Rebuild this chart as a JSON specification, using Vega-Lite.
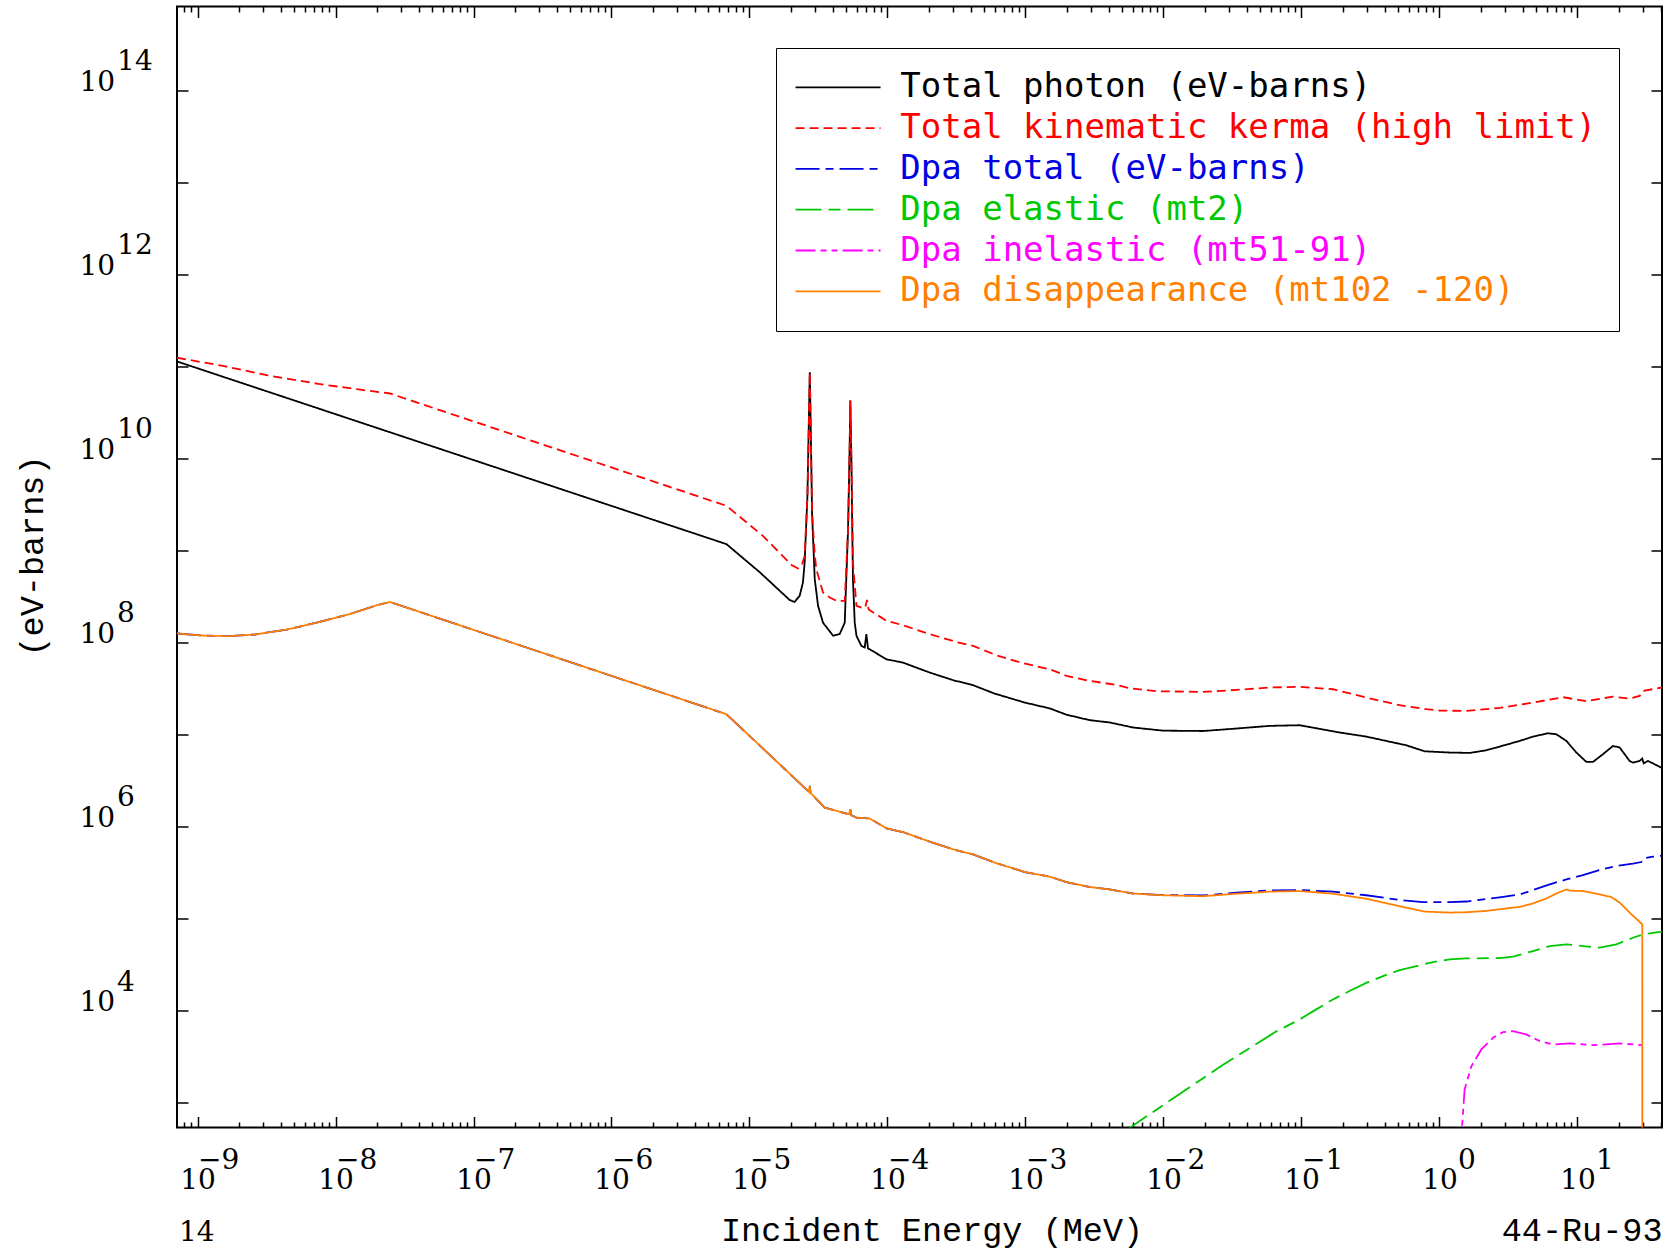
{
  "$schema": "https://vega.github.io/schema/vega-lite/v6.json",
  "width": 1485,
  "height": 1121,
  "autosize": {"type": "none"},
  "padding": {"left": 177, "top": 6.5, "right": 5, "bottom": 123.5},
  "background": "white",
  "layer": [
    {
      "data": {"values": [
        {"s":"Total photon (eV-barns)","E":7.1e-10,"v":1.13e11},
        {"s":"Total photon (eV-barns)","E":6.81e-6,"v":1.17e9},
        {"s":"Total photon (eV-barns)","E":1.19e-5,"v":5.77e8},
        {"s":"Total photon (eV-barns)","E":1.95e-5,"v":2.90e8},
        {"s":"Total photon (eV-barns)","E":2.12e-5,"v":2.75e8},
        {"s":"Total photon (eV-barns)","E":2.31e-5,"v":3.21e8},
        {"s":"Total photon (eV-barns)","E":2.44e-5,"v":4.48e8},
        {"s":"Total photon (eV-barns)","E":2.51e-5,"v":7.38e8},
        {"s":"Total photon (eV-barns)","E":2.63e-5,"v":3.93e9},
        {"s":"Total photon (eV-barns)","E":2.70e-5,"v":3.16e10},
        {"s":"Total photon (eV-barns)","E":2.735e-5,"v":8.61e10},
        {"s":"Total photon (eV-barns)","E":2.78e-5,"v":2.08e10},
        {"s":"Total photon (eV-barns)","E":2.84e-5,"v":2.59e9},
        {"s":"Total photon (eV-barns)","E":2.97e-5,"v":4.88e8},
        {"s":"Total photon (eV-barns)","E":3.14e-5,"v":2.50e8},
        {"s":"Total photon (eV-barns)","E":3.41e-5,"v":1.64e8},
        {"s":"Total photon (eV-barns)","E":4.04e-5,"v":1.18e8},
        {"s":"Total photon (eV-barns)","E":4.50e-5,"v":1.23e8},
        {"s":"Total photon (eV-barns)","E":4.90e-5,"v":1.64e8},
        {"s":"Total photon (eV-barns)","E":5.18e-5,"v":1.70e9},
        {"s":"Total photon (eV-barns)","E":5.32e-5,"v":1.37e10},
        {"s":"Total photon (eV-barns)","E":5.38e-5,"v":4.24e10},
        {"s":"Total photon (eV-barns)","E":5.48e-5,"v":9.04e9},
        {"s":"Total photon (eV-barns)","E":5.62e-5,"v":4.88e8},
        {"s":"Total photon (eV-barns)","E":5.79e-5,"v":1.64e8},
        {"s":"Total photon (eV-barns)","E":5.96e-5,"v":1.18e8},
        {"s":"Total photon (eV-barns)","E":6.47e-5,"v":9.16e7},
        {"s":"Total photon (eV-barns)","E":6.84e-5,"v":8.81e7},
        {"s":"Total photon (eV-barns)","E":7.03e-5,"v":1.23e8},
        {"s":"Total photon (eV-barns)","E":7.23e-5,"v":8.59e7},
        {"s":"Total photon (eV-barns)","E":7.43e-5,"v":8.43e7},
        {"s":"Total photon (eV-barns)","E":9.82e-5,"v":6.56e7},
        {"s":"Total photon (eV-barns)","E":1.29e-4,"v":6.05e7},
        {"s":"Total photon (eV-barns)","E":2.02e-4,"v":4.71e7},
        {"s":"Total photon (eV-barns)","E":2.99e-4,"v":3.89e7},
        {"s":"Total photon (eV-barns)","E":4.17e-4,"v":3.43e7},
        {"s":"Total photon (eV-barns)","E":5.98e-4,"v":2.78e7},
        {"s":"Total photon (eV-barns)","E":9.89e-4,"v":2.22e7},
        {"s":"Total photon (eV-barns)","E":1.50e-3,"v":1.92e7},
        {"s":"Total photon (eV-barns)","E":1.98e-3,"v":1.64e7},
        {"s":"Total photon (eV-barns)","E":2.92e-3,"v":1.43e7},
        {"s":"Total photon (eV-barns)","E":4.07e-3,"v":1.35e7},
        {"s":"Total photon (eV-barns)","E":6.03e-3,"v":1.19e7},
        {"s":"Total photon (eV-barns)","E":9.93e-3,"v":1.10e7},
        {"s":"Total photon (eV-barns)","E":1.94e-2,"v":1.09e7},
        {"s":"Total photon (eV-barns)","E":3.38e-2,"v":1.16e7},
        {"s":"Total photon (eV-barns)","E":5.89e-2,"v":1.24e7},
        {"s":"Total photon (eV-barns)","E":9.70e-2,"v":1.26e7},
        {"s":"Total photon (eV-barns)","E":0.189,"v":1.05e7},
        {"s":"Total photon (eV-barns)","E":0.295,"v":9.48e6},
        {"s":"Total photon (eV-barns)","E":0.576,"v":7.62e6},
        {"s":"Total photon (eV-barns)","E":0.781,"v":6.56e6},
        {"s":"Total photon (eV-barns)","E":1.186,"v":6.36e6},
        {"s":"Total photon (eV-barns)","E":1.655,"v":6.30e6},
        {"s":"Total photon (eV-barns)","E":2.187,"v":6.73e6},
        {"s":"Total photon (eV-barns)","E":2.729,"v":7.38e6},
        {"s":"Total photon (eV-barns)","E":3.810,"v":8.50e6},
        {"s":"Total photon (eV-barns)","E":4.764,"v":9.48e6},
        {"s":"Total photon (eV-barns)","E":6.118,"v":1.03e7},
        {"s":"Total photon (eV-barns)","E":7.038,"v":1.005e7},
        {"s":"Total photon (eV-barns)","E":8.316,"v":8.50e6},
        {"s":"Total photon (eV-barns)","E":9.824,"v":6.36e6},
        {"s":"Total photon (eV-barns)","E":11.61,"v":5.03e6},
        {"s":"Total photon (eV-barns)","E":12.96,"v":5.03e6},
        {"s":"Total photon (eV-barns)","E":15.31,"v":6.10e6},
        {"s":"Total photon (eV-barns)","E":18.08,"v":7.50e6},
        {"s":"Total photon (eV-barns)","E":20.23,"v":7.21e6},
        {"s":"Total photon (eV-barns)","E":23.89,"v":5.15e6},
        {"s":"Total photon (eV-barns)","E":25.25,"v":4.95e6},
        {"s":"Total photon (eV-barns)","E":28.23,"v":5.15e6},
        {"s":"Total photon (eV-barns)","E":29.51,"v":5.47e6},
        {"s":"Total photon (eV-barns)","E":30.2,"v":4.86e6},
        {"s":"Total photon (eV-barns)","E":32.4,"v":5.15e6},
        {"s":"Total photon (eV-barns)","E":35.2,"v":4.86e6},
        {"s":"Total photon (eV-barns)","E":41,"v":4.32e6},

        {"s":"Total kinematic kerma (high limit)","E":7.1e-10,"v":1.24e11},
        {"s":"Total kinematic kerma (high limit)","E":1.53e-9,"v":1.01e11},
        {"s":"Total kinematic kerma (high limit)","E":3.23e-9,"v":7.98e10},
        {"s":"Total kinematic kerma (high limit)","E":7.55e-9,"v":6.44e10},
        {"s":"Total kinematic kerma (high limit)","E":1.53e-8,"v":5.57e10},
        {"s":"Total kinematic kerma (high limit)","E":2.48e-8,"v":5.07e10},
        {"s":"Total kinematic kerma (high limit)","E":6.81e-6,"v":3.05e9},
        {"s":"Total kinematic kerma (high limit)","E":1.25e-5,"v":1.44e9},
        {"s":"Total kinematic kerma (high limit)","E":2.03e-5,"v":6.89e8},
        {"s":"Total kinematic kerma (high limit)","E":2.25e-5,"v":6.36e8},
        {"s":"Total kinematic kerma (high limit)","E":2.40e-5,"v":6.98e8},
        {"s":"Total kinematic kerma (high limit)","E":2.51e-5,"v":8.73e8},
        {"s":"Total kinematic kerma (high limit)","E":2.63e-5,"v":3.93e9},
        {"s":"Total kinematic kerma (high limit)","E":2.70e-5,"v":3.16e10},
        {"s":"Total kinematic kerma (high limit)","E":2.735e-5,"v":8.61e10},
        {"s":"Total kinematic kerma (high limit)","E":2.78e-5,"v":2.08e10},
        {"s":"Total kinematic kerma (high limit)","E":2.84e-5,"v":2.59e9},
        {"s":"Total kinematic kerma (high limit)","E":2.97e-5,"v":9.12e8},
        {"s":"Total kinematic kerma (high limit)","E":3.05e-5,"v":6.26e8},
        {"s":"Total kinematic kerma (high limit)","E":3.41e-5,"v":3.49e8},
        {"s":"Total kinematic kerma (high limit)","E":3.82e-5,"v":3.08e8},
        {"s":"Total kinematic kerma (high limit)","E":4.26e-5,"v":2.83e8},
        {"s":"Total kinematic kerma (high limit)","E":4.90e-5,"v":2.83e8},
        {"s":"Total kinematic kerma (high limit)","E":5.18e-5,"v":1.70e9},
        {"s":"Total kinematic kerma (high limit)","E":5.32e-5,"v":1.37e10},
        {"s":"Total kinematic kerma (high limit)","E":5.38e-5,"v":4.24e10},
        {"s":"Total kinematic kerma (high limit)","E":5.48e-5,"v":9.04e9},
        {"s":"Total kinematic kerma (high limit)","E":5.62e-5,"v":7.36e8},
        {"s":"Total kinematic kerma (high limit)","E":5.96e-5,"v":2.50e8},
        {"s":"Total kinematic kerma (high limit)","E":6.47e-5,"v":2.39e8},
        {"s":"Total kinematic kerma (high limit)","E":6.89e-5,"v":2.38e8},
        {"s":"Total kinematic kerma (high limit)","E":7.11e-5,"v":2.90e8},
        {"s":"Total kinematic kerma (high limit)","E":7.30e-5,"v":2.28e8},
        {"s":"Total kinematic kerma (high limit)","E":9.82e-5,"v":1.72e8},
        {"s":"Total kinematic kerma (high limit)","E":1.29e-4,"v":1.54e8},
        {"s":"Total kinematic kerma (high limit)","E":2.02e-4,"v":1.23e8},
        {"s":"Total kinematic kerma (high limit)","E":3.16e-4,"v":1.01e8},
        {"s":"Total kinematic kerma (high limit)","E":4.17e-4,"v":9.18e7},
        {"s":"Total kinematic kerma (high limit)","E":6.15e-4,"v":7.26e7},
        {"s":"Total kinematic kerma (high limit)","E":9.59e-4,"v":5.95e7},
        {"s":"Total kinematic kerma (high limit)","E":1.50e-3,"v":5.11e7},
        {"s":"Total kinematic kerma (high limit)","E":1.98e-3,"v":4.34e7},
        {"s":"Total kinematic kerma (high limit)","E":2.92e-3,"v":3.82e7},
        {"s":"Total kinematic kerma (high limit)","E":4.56e-3,"v":3.46e7},
        {"s":"Total kinematic kerma (high limit)","E":5.69e-3,"v":3.18e7},
        {"s":"Total kinematic kerma (high limit)","E":8.87e-3,"v":2.95e7},
        {"s":"Total kinematic kerma (high limit)","E":1.94e-2,"v":2.90e7},
        {"s":"Total kinematic kerma (high limit)","E":3.38e-2,"v":3.05e7},
        {"s":"Total kinematic kerma (high limit)","E":5.89e-2,"v":3.24e7},
        {"s":"Total kinematic kerma (high limit)","E":9.70e-2,"v":3.29e7},
        {"s":"Total kinematic kerma (high limit)","E":0.169,"v":3.10e7},
        {"s":"Total kinematic kerma (high limit)","E":0.295,"v":2.52e7},
        {"s":"Total kinematic kerma (high limit)","E":0.515,"v":2.08e7},
        {"s":"Total kinematic kerma (high limit)","E":0.804,"v":1.88e7},
        {"s":"Total kinematic kerma (high limit)","E":1.0,"v":1.82e7},
        {"s":"Total kinematic kerma (high limit)","E":1.566,"v":1.80e7},
        {"s":"Total kinematic kerma (high limit)","E":2.729,"v":1.94e7},
        {"s":"Total kinematic kerma (high limit)","E":4.764,"v":2.22e7},
        {"s":"Total kinematic kerma (high limit)","E":7.855,"v":2.54e7},
        {"s":"Total kinematic kerma (high limit)","E":11.61,"v":2.30e7},
        {"s":"Total kinematic kerma (high limit)","E":18.08,"v":2.58e7},
        {"s":"Total kinematic kerma (high limit)","E":23.89,"v":2.45e7},
        {"s":"Total kinematic kerma (high limit)","E":28.23,"v":2.62e7},
        {"s":"Total kinematic kerma (high limit)","E":29.83,"v":2.97e7},
        {"s":"Total kinematic kerma (high limit)","E":41,"v":3.24e7},

        {"s":"Dpa total (eV-barns)","E":7.1e-10,"v":1.25e8},
        {"s":"Dpa total (eV-barns)","E":1.07e-9,"v":1.19e8},
        {"s":"Dpa total (eV-barns)","E":1.67e-9,"v":1.17e8},
        {"s":"Dpa total (eV-barns)","E":2.61e-9,"v":1.22e8},
        {"s":"Dpa total (eV-barns)","E":4.44e-9,"v":1.38e8},
        {"s":"Dpa total (eV-barns)","E":7.55e-9,"v":1.66e8},
        {"s":"Dpa total (eV-barns)","E":1.29e-8,"v":2.05e8},
        {"s":"Dpa total (eV-barns)","E":2.00e-8,"v":2.54e8},
        {"s":"Dpa total (eV-barns)","E":2.48e-8,"v":2.75e8},
        {"s":"Dpa total (eV-barns)","E":6.81e-6,"v":1.66e7},
        {"s":"Dpa total (eV-barns)","E":2.69e-5,"v":2.39e6},
        {"s":"Dpa total (eV-barns)","E":2.735e-5,"v":2.76e6},
        {"s":"Dpa total (eV-barns)","E":2.77e-5,"v":2.31e6},
        {"s":"Dpa total (eV-barns)","E":3.51e-5,"v":1.60e6},
        {"s":"Dpa total (eV-barns)","E":5.26e-5,"v":1.36e6},
        {"s":"Dpa total (eV-barns)","E":5.38e-5,"v":1.54e6},
        {"s":"Dpa total (eV-barns)","E":5.46e-5,"v":1.33e6},
        {"s":"Dpa total (eV-barns)","E":5.96e-5,"v":1.25e6},
        {"s":"Dpa total (eV-barns)","E":7.43e-5,"v":1.22e6},
        {"s":"Dpa total (eV-barns)","E":9.82e-5,"v":9.55e5},
        {"s":"Dpa total (eV-barns)","E":1.29e-4,"v":8.71e5},
        {"s":"Dpa total (eV-barns)","E":2.02e-4,"v":6.85e5},
        {"s":"Dpa total (eV-barns)","E":2.99e-4,"v":5.64e5},
        {"s":"Dpa total (eV-barns)","E":4.17e-4,"v":4.98e5},
        {"s":"Dpa total (eV-barns)","E":5.98e-4,"v":4.05e5},
        {"s":"Dpa total (eV-barns)","E":9.89e-4,"v":3.20e5},
        {"s":"Dpa total (eV-barns)","E":1.50e-3,"v":2.85e5},
        {"s":"Dpa total (eV-barns)","E":1.98e-3,"v":2.49e5},
        {"s":"Dpa total (eV-barns)","E":2.92e-3,"v":2.20e5},
        {"s":"Dpa total (eV-barns)","E":4.07e-3,"v":2.07e5},
        {"s":"Dpa total (eV-barns)","E":6.03e-3,"v":1.87e5},
        {"s":"Dpa total (eV-barns)","E":9.93e-3,"v":1.80e5},
        {"s":"Dpa total (eV-barns)","E":1.94e-2,"v":1.78e5},
        {"s":"Dpa total (eV-barns)","E":3.38e-2,"v":1.91e5},
        {"s":"Dpa total (eV-barns)","E":5.89e-2,"v":2.02e5},
        {"s":"Dpa total (eV-barns)","E":9.70e-2,"v":2.04e5},
        {"s":"Dpa total (eV-barns)","E":0.169,"v":1.96e5},
        {"s":"Dpa total (eV-barns)","E":0.295,"v":1.79e5},
        {"s":"Dpa total (eV-barns)","E":0.515,"v":1.59e5},
        {"s":"Dpa total (eV-barns)","E":0.760,"v":1.51e5},
        {"s":"Dpa total (eV-barns)","E":1.186,"v":1.51e5},
        {"s":"Dpa total (eV-barns)","E":1.566,"v":1.53e5},
        {"s":"Dpa total (eV-barns)","E":2.729,"v":1.70e5},
        {"s":"Dpa total (eV-barns)","E":3.810,"v":1.82e5},
        {"s":"Dpa total (eV-barns)","E":4.764,"v":2.04e5},
        {"s":"Dpa total (eV-barns)","E":6.295,"v":2.35e5},
        {"s":"Dpa total (eV-barns)","E":8.316,"v":2.66e5},
        {"s":"Dpa total (eV-barns)","E":10.96,"v":2.97e5},
        {"s":"Dpa total (eV-barns)","E":14.49,"v":3.37e5},
        {"s":"Dpa total (eV-barns)","E":19.14,"v":3.72e5},
        {"s":"Dpa total (eV-barns)","E":25.25,"v":3.95e5},
        {"s":"Dpa total (eV-barns)","E":29.04,"v":4.11e5},
        {"s":"Dpa total (eV-barns)","E":29.83,"v":4.48e5},
        {"s":"Dpa total (eV-barns)","E":35.2,"v":4.70e5},
        {"s":"Dpa total (eV-barns)","E":41,"v":4.82e5},

        {"s":"Dpa elastic (mt2)","E":5.4e-3,"v":480},
        {"s":"Dpa elastic (mt2)","E":5.73e-3,"v":535},
        {"s":"Dpa elastic (mt2)","E":1.10e-2,"v":1.04e3},
        {"s":"Dpa elastic (mt2)","E":2.67e-2,"v":2.54e3},
        {"s":"Dpa elastic (mt2)","E":6.49e-2,"v":5.87e3},
        {"s":"Dpa elastic (mt2)","E":9.70e-2,"v":8.00e3},
        {"s":"Dpa elastic (mt2)","E":0.128,"v":1.03e4},
        {"s":"Dpa elastic (mt2)","E":0.169,"v":1.32e4},
        {"s":"Dpa elastic (mt2)","E":0.223,"v":1.63e4},
        {"s":"Dpa elastic (mt2)","E":0.295,"v":2.00e4},
        {"s":"Dpa elastic (mt2)","E":0.390,"v":2.37e4},
        {"s":"Dpa elastic (mt2)","E":0.515,"v":2.75e4},
        {"s":"Dpa elastic (mt2)","E":0.681,"v":3.04e4},
        {"s":"Dpa elastic (mt2)","E":0.898,"v":3.36e4},
        {"s":"Dpa elastic (mt2)","E":1.186,"v":3.60e4},
        {"s":"Dpa elastic (mt2)","E":1.566,"v":3.68e4},
        {"s":"Dpa elastic (mt2)","E":2.729,"v":3.72e4},
        {"s":"Dpa elastic (mt2)","E":3.413,"v":3.85e4},
        {"s":"Dpa elastic (mt2)","E":4.764,"v":4.43e4},
        {"s":"Dpa elastic (mt2)","E":6.295,"v":5.02e4},
        {"s":"Dpa elastic (mt2)","E":8.316,"v":5.24e4},
        {"s":"Dpa elastic (mt2)","E":10.96,"v":5.02e4},
        {"s":"Dpa elastic (mt2)","E":14.49,"v":4.82e4},
        {"s":"Dpa elastic (mt2)","E":19.14,"v":5.24e4},
        {"s":"Dpa elastic (mt2)","E":25.25,"v":6.18e4},
        {"s":"Dpa elastic (mt2)","E":29.83,"v":6.73e4},
        {"s":"Dpa elastic (mt2)","E":41,"v":7.19e4},

        {"s":"Dpa inelastic (mt51-91)","E":1.446,"v":300},
        {"s":"Dpa inelastic (mt51-91)","E":1.457,"v":541},
        {"s":"Dpa inelastic (mt51-91)","E":1.522,"v":1.39e3},
        {"s":"Dpa inelastic (mt51-91)","E":1.703,"v":2.48e3},
        {"s":"Dpa inelastic (mt51-91)","E":2.012,"v":3.78e3},
        {"s":"Dpa inelastic (mt51-91)","E":2.445,"v":5.06e3},
        {"s":"Dpa inelastic (mt51-91)","E":2.884,"v":5.82e3},
        {"s":"Dpa inelastic (mt51-91)","E":3.413,"v":5.98e3},
        {"s":"Dpa inelastic (mt51-91)","E":4.260,"v":5.50e3},
        {"s":"Dpa inelastic (mt51-91)","E":5.328,"v":4.65e3},
        {"s":"Dpa inelastic (mt51-91)","E":6.650,"v":4.28e3},
        {"s":"Dpa inelastic (mt51-91)","E":8.786,"v":4.39e3},
        {"s":"Dpa inelastic (mt51-91)","E":12.96,"v":4.21e3},
        {"s":"Dpa inelastic (mt51-91)","E":20.23,"v":4.39e3},
        {"s":"Dpa inelastic (mt51-91)","E":29.51,"v":4.21e3},

        {"s":"Dpa disappearance (mt102 -120)","E":7.1e-10,"v":1.25e8},
        {"s":"Dpa disappearance (mt102 -120)","E":1.07e-9,"v":1.19e8},
        {"s":"Dpa disappearance (mt102 -120)","E":1.67e-9,"v":1.17e8},
        {"s":"Dpa disappearance (mt102 -120)","E":2.61e-9,"v":1.22e8},
        {"s":"Dpa disappearance (mt102 -120)","E":4.44e-9,"v":1.38e8},
        {"s":"Dpa disappearance (mt102 -120)","E":7.55e-9,"v":1.66e8},
        {"s":"Dpa disappearance (mt102 -120)","E":1.29e-8,"v":2.05e8},
        {"s":"Dpa disappearance (mt102 -120)","E":2.00e-8,"v":2.54e8},
        {"s":"Dpa disappearance (mt102 -120)","E":2.48e-8,"v":2.75e8},
        {"s":"Dpa disappearance (mt102 -120)","E":6.81e-6,"v":1.66e7},
        {"s":"Dpa disappearance (mt102 -120)","E":2.69e-5,"v":2.39e6},
        {"s":"Dpa disappearance (mt102 -120)","E":2.735e-5,"v":2.76e6},
        {"s":"Dpa disappearance (mt102 -120)","E":2.77e-5,"v":2.31e6},
        {"s":"Dpa disappearance (mt102 -120)","E":3.51e-5,"v":1.60e6},
        {"s":"Dpa disappearance (mt102 -120)","E":5.26e-5,"v":1.36e6},
        {"s":"Dpa disappearance (mt102 -120)","E":5.38e-5,"v":1.54e6},
        {"s":"Dpa disappearance (mt102 -120)","E":5.46e-5,"v":1.33e6},
        {"s":"Dpa disappearance (mt102 -120)","E":5.96e-5,"v":1.25e6},
        {"s":"Dpa disappearance (mt102 -120)","E":7.43e-5,"v":1.22e6},
        {"s":"Dpa disappearance (mt102 -120)","E":9.82e-5,"v":9.55e5},
        {"s":"Dpa disappearance (mt102 -120)","E":1.29e-4,"v":8.71e5},
        {"s":"Dpa disappearance (mt102 -120)","E":2.02e-4,"v":6.85e5},
        {"s":"Dpa disappearance (mt102 -120)","E":2.99e-4,"v":5.64e5},
        {"s":"Dpa disappearance (mt102 -120)","E":4.17e-4,"v":4.98e5},
        {"s":"Dpa disappearance (mt102 -120)","E":5.98e-4,"v":4.05e5},
        {"s":"Dpa disappearance (mt102 -120)","E":9.89e-4,"v":3.20e5},
        {"s":"Dpa disappearance (mt102 -120)","E":1.50e-3,"v":2.85e5},
        {"s":"Dpa disappearance (mt102 -120)","E":1.98e-3,"v":2.49e5},
        {"s":"Dpa disappearance (mt102 -120)","E":2.92e-3,"v":2.20e5},
        {"s":"Dpa disappearance (mt102 -120)","E":4.07e-3,"v":2.07e5},
        {"s":"Dpa disappearance (mt102 -120)","E":6.03e-3,"v":1.87e5},
        {"s":"Dpa disappearance (mt102 -120)","E":9.93e-3,"v":1.79e5},
        {"s":"Dpa disappearance (mt102 -120)","E":1.94e-2,"v":1.75e5},
        {"s":"Dpa disappearance (mt102 -120)","E":3.38e-2,"v":1.86e5},
        {"s":"Dpa disappearance (mt102 -120)","E":5.89e-2,"v":1.96e5},
        {"s":"Dpa disappearance (mt102 -120)","E":9.70e-2,"v":1.99e5},
        {"s":"Dpa disappearance (mt102 -120)","E":0.169,"v":1.86e5},
        {"s":"Dpa disappearance (mt102 -120)","E":0.295,"v":1.64e5},
        {"s":"Dpa disappearance (mt102 -120)","E":0.515,"v":1.36e5},
        {"s":"Dpa disappearance (mt102 -120)","E":0.781,"v":1.19e5},
        {"s":"Dpa disappearance (mt102 -120)","E":1.186,"v":1.16e5},
        {"s":"Dpa disappearance (mt102 -120)","E":1.566,"v":1.17e5},
        {"s":"Dpa disappearance (mt102 -120)","E":2.187,"v":1.21e5},
        {"s":"Dpa disappearance (mt102 -120)","E":2.729,"v":1.26e5},
        {"s":"Dpa disappearance (mt102 -120)","E":3.810,"v":1.34e5},
        {"s":"Dpa disappearance (mt102 -120)","E":4.764,"v":1.46e5},
        {"s":"Dpa disappearance (mt102 -120)","E":5.957,"v":1.65e5},
        {"s":"Dpa disappearance (mt102 -120)","E":7.038,"v":1.87e5},
        {"s":"Dpa disappearance (mt102 -120)","E":8.316,"v":2.07e5},
        {"s":"Dpa disappearance (mt102 -120)","E":8.786,"v":2.01e5},
        {"s":"Dpa disappearance (mt102 -120)","E":10.96,"v":1.99e5},
        {"s":"Dpa disappearance (mt102 -120)","E":14.49,"v":1.83e5},
        {"s":"Dpa disappearance (mt102 -120)","E":17.61,"v":1.71e5},
        {"s":"Dpa disappearance (mt102 -120)","E":20.23,"v":1.49e5},
        {"s":"Dpa disappearance (mt102 -120)","E":23.89,"v":1.16e5},
        {"s":"Dpa disappearance (mt102 -120)","E":29.51,"v":8.64e4},
        {"s":"Dpa disappearance (mt102 -120)","E":29.55,"v":1}
      ]},
      "mark": {"type": "line", "strokeWidth": 1.8, "clip": true},
      "encoding": {
        "x": {
          "field": "E", "type": "quantitative",
          "scale": {"type": "log", "domain": [7.1e-10, 41], "nice": false},
          "axis": {
            "orient": "bottom",
            "values": [8e-10,9e-10,1e-9,2e-9,3e-9,4e-9,5e-9,6e-9,7e-9,8e-9,9e-9,1e-8,2e-8,3e-8,4e-8,5e-8,6e-8,7e-8,8e-8,9e-8,1e-7,2e-7,3e-7,4e-7,5e-7,6e-7,7e-7,8e-7,9e-7,1e-6,2e-6,3e-6,4e-6,5e-6,6e-6,7e-6,8e-6,9e-6,1e-5,2e-5,3e-5,4e-5,5e-5,6e-5,7e-5,8e-5,9e-5,1e-4,2e-4,3e-4,4e-4,5e-4,6e-4,7e-4,8e-4,9e-4,1e-3,2e-3,3e-3,4e-3,5e-3,6e-3,7e-3,8e-3,9e-3,1e-2,2e-2,3e-2,4e-2,5e-2,6e-2,7e-2,8e-2,9e-2,0.1,0.2,0.3,0.4,0.5,0.6,0.7,0.8,0.9,1,2,3,4,5,6,7,8,9,10,20,30,40],
            "labelExpr": "abs(log(datum.value)/LN10 - round(log(datum.value)/LN10)) < 0.001 ? '10' : ''",
            "tickSize": {"condition": {"test": "abs(log(datum.value)/LN10 - round(log(datum.value)/LN10)) < 0.001", "value": -11}, "value": -5.5},
            "labelFont": "DejaVu Serif", "labelFontSize": 28,
            "labelAlign": "center", "labelBaseline": "top",
            "labelPadding": 50,
            "labelOverlap": false, "labelFlush": false, "labelBound": false,
            "title": "Incident Energy (MeV)",
            "titleFont": "Liberation Mono", "titleFontSize": 33.5,
            "titleX": 754.5, "titleY": 112.6, "titleAlign": "center", "titleBaseline": "alphabetic", "titleLimit": 3000
          }
        },
        "y": {
          "field": "v", "type": "quantitative",
          "scale": {"type": "log", "domain": [536, 8.13e14], "nice": false},
          "axis": {
            "orient": "left",
            "values": [1e3,1e4,1e5,1e6,1e7,1e8,1e9,1e10,1e11,1e12,1e13,1e14],
            "labelExpr": "(round(log(datum.value)/LN10) % 2 == 0 && datum.value > 5000) ? '10' : ''",
            "tickSize": -11,
            "labelFont": "DejaVu Serif", "labelFontSize": 28,
            "labelAlign": "left", "labelBaseline": "alphabetic",
            "labelOffset": 0, "labelPadding": 109,
            "labelOverlap": false, "labelFlush": false, "labelBound": false,
            "title": "(eV-barns)",
            "titleFont": "Liberation Mono", "titleFontSize": 33.5,
            "titleX": -145, "titleY": 549, "titleAngle": -90, "titleAlign": "center", "titleBaseline": "middle", "titleLimit": 3000
          }
        },
        "color": {
          "field": "s", "type": "nominal",
          "scale": {
            "domain": ["Total photon (eV-barns)", "Total kinematic kerma (high limit)", "Dpa total (eV-barns)", "Dpa elastic (mt2)", "Dpa inelastic (mt51-91)", "Dpa disappearance (mt102 -120)"],
            "range": ["#000000", "#ff0000", "#0000e0", "#00c800", "#ff00ff", "#ff8000"]
          },
          "legend": {
            "orient": "none", "legendX": 599, "legendY": 41.5,
            "title": null,
            "symbolType": "M-19.75,0H65.25",
            "symbolSize": 4,
            "symbolStrokeWidth": 1.8,
            "labelFont": "DejaVu Sans Mono", "labelFontSize": 34,
            "labelColor": {"expr": "scale('color', datum.value)"},
            "labelOffset": 68, "labelLimit": 2000,
            "rowPadding": 6.8, "padding": 22.3,
            "strokeColor": "black", "fillColor": "white"
          }
        },
        "strokeDash": {
          "field": "s", "type": "nominal",
          "scale": {
            "domain": ["Total photon (eV-barns)", "Total kinematic kerma (high limit)", "Dpa total (eV-barns)", "Dpa elastic (mt2)", "Dpa inelastic (mt51-91)", "Dpa disappearance (mt102 -120)"],
            "range": [[1,0],[9,5],[24,6,8,6],[26,7,12,7],[20,5,6,5,6,5],[1,0]]
          }
        }
      }
    },
    {
      "data": {"values": [{"E": 1, "v": 1e8}]},
      "mark": {"type": "point", "opacity": 0},
      "encoding": {
        "x": {
          "field": "E", "type": "quantitative",
          "scale": {"type": "log", "domain": [7.1e-10, 41], "nice": false},
          "axis": {
            "orient": "top",
            "values": [8e-10,9e-10,1e-9,2e-9,3e-9,4e-9,5e-9,6e-9,7e-9,8e-9,9e-9,1e-8,2e-8,3e-8,4e-8,5e-8,6e-8,7e-8,8e-8,9e-8,1e-7,2e-7,3e-7,4e-7,5e-7,6e-7,7e-7,8e-7,9e-7,1e-6,2e-6,3e-6,4e-6,5e-6,6e-6,7e-6,8e-6,9e-6,1e-5,2e-5,3e-5,4e-5,5e-5,6e-5,7e-5,8e-5,9e-5,1e-4,2e-4,3e-4,4e-4,5e-4,6e-4,7e-4,8e-4,9e-4,1e-3,2e-3,3e-3,4e-3,5e-3,6e-3,7e-3,8e-3,9e-3,1e-2,2e-2,3e-2,4e-2,5e-2,6e-2,7e-2,8e-2,9e-2,0.1,0.2,0.3,0.4,0.5,0.6,0.7,0.8,0.9,1,2,3,4,5,6,7,8,9,10,20,30,40],
            "labels": false,
            "tickSize": {"condition": {"test": "abs(log(datum.value)/LN10 - round(log(datum.value)/LN10)) < 0.001", "value": -11}, "value": -5.5},
            "title": "44-Ru-93",
            "titleFont": "Liberation Mono", "titleFontSize": 33.5,
            "titleX": 1485, "titleY": 1233.5, "titleAlign": "right", "titleBaseline": "alphabetic", "titleAngle": 0, "titleLimit": 3000
          }
        },
        "y": {
          "field": "v", "type": "quantitative",
          "scale": {"type": "log", "domain": [536, 8.13e14], "nice": false},
          "axis": {
            "orient": "right",
            "values": [1e3,1e4,1e5,1e6,1e7,1e8,1e9,1e10,1e11,1e12,1e13,1e14],
            "labels": false,
            "tickSize": -11,
            "title": "14",
            "titleFont": "DejaVu Serif", "titleFontSize": 28,
            "titleX": -1483.5, "titleY": 1233.5, "titleAlign": "left", "titleBaseline": "alphabetic", "titleAngle": 0, "titleLimit": 3000
          }
        }
      }
    },
    {
      "data": {"values": [{"E": 1, "v": 1e8}]},
      "mark": {"type": "point", "opacity": 0},
      "encoding": {
        "x": {
          "field": "E", "type": "quantitative",
          "scale": {"type": "log", "domain": [7.1e-10, 41], "nice": false},
          "axis": {
            "orient": "bottom",
            "values": [1e-9,1e-8,1e-7,1e-6,1e-5,1e-4,1e-3,1e-2,0.1,1,10],
            "labelExpr": "round(log(datum.value)/LN10) < 0 ? '\u2212' + (-round(log(datum.value)/LN10)) : '' + round(log(datum.value)/LN10)",
            "tickSize": -11, "tickOpacity": 0,
            "labelFont": "DejaVu Serif", "labelFontSize": 28,
            "labelAlign": "left", "labelBaseline": "top",
            "labelOffset": {"condition": {"test": "datum.value < 0.5", "value": 0}, "value": 18},
            "labelPadding": 30,
            "labelOverlap": false, "labelFlush": false, "labelBound": false,
            "title": null
          }
        },
        "y": {
          "field": "v", "type": "quantitative",
          "scale": {"type": "log", "domain": [536, 8.13e14], "nice": false},
          "axis": {
            "orient": "left",
            "values": [1e4,1e6,1e8,1e10,1e12,1e14],
            "labelExpr": "'' + round(log(datum.value)/LN10)",
            "tickSize": -11, "tickOpacity": 0,
            "labelFont": "DejaVu Serif", "labelFontSize": 28,
            "labelAlign": "left", "labelBaseline": "alphabetic",
            "labelOffset": -20.5, "labelPadding": 71.4,
            "labelOverlap": false, "labelFlush": false, "labelBound": false,
            "title": null
          }
        }
      }
    }
  ],
  "resolve": {"axis": {"x": "independent", "y": "independent"}},
  "config": {
    "view": {"stroke": "black", "strokeWidth": 2},
    "axis": {
      "domain": false, "grid": false,
      "tickColor": "black", "tickWidth": 1.5,
      "labelColor": "black", "titleColor": "black", "titleFontWeight": "normal"
    }
  }
}
